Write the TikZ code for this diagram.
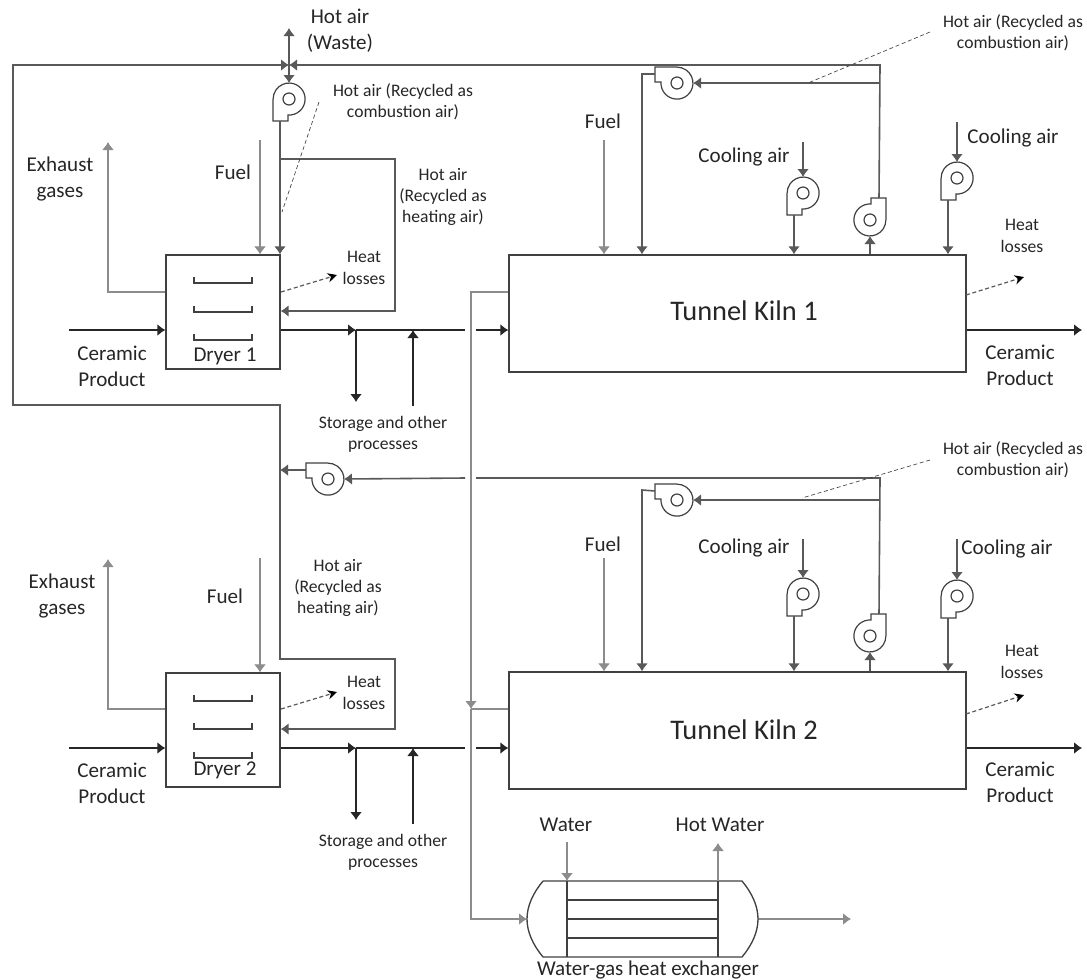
\documentclass[tikz,border=0pt]{standalone}
\usepackage{fontspec}
\setmainfont{Carlito}
\usetikzlibrary{arrows.meta}

\colorlet{linedark}{black!75}
\colorlet{linegas}{black!65}
\colorlet{lineflue}{black!45}

\tikzset{
  tipsolid/.tip={Latex[length=6pt,width=9pt]},
  unitbox/.style={draw=linedark,line width=1pt,inner sep=0pt},
  pipeline/.style={draw=linegas,line width=1.2pt},
  prodline/.style={draw=black!85,line width=1pt},
  flueline/.style={draw=lineflue,line width=1pt},
  fuelline/.style={draw=lineflue,line width=.8pt},
  lossline/.style={draw=linegas,line width=.9pt,densely dashed,-{Stealth[length=7pt,width=7pt,black]}},
  noteline/.style={draw=linedark,line width=.5pt,densely dashed},
  biglabel/.style={align=center,inner sep=0pt,text=black!85,font=\fontsize{15.8}{19.5}\selectfont},
  smalllabel/.style={align=center,inner sep=0pt,text=black!85,font=\fontsize{13.2}{16}\selectfont},
  pics/fan/.style={code={
    \draw[draw=linedark,line width=.9pt] (-16,0) -- (-16,-22) -- (-1,-22) -- (-1,-16) arc[start angle=-94,end angle=180,radius=16];
    \draw[draw=linedark,line width=.9pt] (0,0) circle[radius=6];
    \coordinate (-in) at (0,16);
    \coordinate (-out) at (-9,-22);
  }}
}

\begin{document}
\begin{tikzpicture}[x=.75pt,y=.75pt,yscale=-1]
\useasboundingbox (0,0) rectangle (1087,979);

% units
\node[unitbox,minimum width=85.5pt,minimum height=85.5pt] (dryer1) at (223,312) {};
\node[unitbox,minimum width=85.5pt,minimum height=85.5pt] (dryer2) at (223,730) {};
\node[unitbox,minimum width=342.75pt,minimum height=87.75pt] (kiln1) at (737.5,313.5) {};
\node[unitbox,minimum width=342.75pt,minimum height=87.75pt] (kiln2) at (737.5,730.5) {};

\node[biglabel] (namedryer1) at (225,356) {Dryer 1};
\node[biglabel] (namedryer2) at (225,770) {Dryer 2};
\node[biglabel,font=\fontsize{21.3}{25}\selectfont] (namekiln1) at (744,311) {Tunnel Kiln 1};
\node[biglabel,font=\fontsize{21.3}{25}\selectfont] (namekiln2) at (744,730) {Tunnel Kiln 2};

% fans
\pic (fantop) at (289,99) {fan};
\pic[rotate=-90] (fan1a) at (677,83) {fan};
\pic (fan1b) at (803,193) {fan};
\pic[rotate=180] (fan1c) at (870,220) {fan};
\pic (fan1d) at (957,178) {fan};
\pic[rotate=-90] (fanmid) at (328,479) {fan};
\pic[rotate=-90] (fan2a) at (677,500) {fan};
\pic (fan2b) at (803,594) {fan};
\pic[rotate=180] (fan2c) at (870,636) {fan};
\pic (fan2d) at (957,596) {fan};

% free ends and corners
\coordinate (valve) at (289,65);
\coordinate (waste) at (289,28);
\coordinate (topleft) at (13,65);
\coordinate (botleft) at (13,405);
\coordinate (botmid) at (280,405);
\coordinate (topright) at (880,65);
\coordinate (midright) at (880,478);
\coordinate (gapa) at (476,478);
\coordinate (gapb) at (465,478);
\coordinate (heat1a) at (280,159);
\coordinate (heat1b) at (395,159);
\coordinate (heat1c) at (395,311);
\coordinate (heat2a) at (280,659);
\coordinate (heat2b) at (395,659);
\coordinate (heat2c) at (395,729);
\coordinate (drop1) at (642,74);
\coordinate (drop2) at (642,490);

% hot air lines
\draw[pipeline,-tipsolid] (valve) -- (waste);
\draw[pipeline,-tipsolid] (valve) -- (fantop-in);
\draw[pipeline,-tipsolid] (fantop-out -| heat1a) -- (heat1a |- dryer1.north);
\draw[pipeline,-tipsolid] (heat1a) -- (heat1b) -- (heat1c) -- (heat1c -| dryer1.east);
\draw[pipeline,-tipsolid] (fan1c-out) -- (topright) -- (valve);
\draw[pipeline,-tipsolid] (fan1a-in -| topright) -- (fan1a-in);
\draw[pipeline,-tipsolid] (fan1a-out) -- (drop1) -- (drop1 |- kiln1.north);
\draw[pipeline,-tipsolid] (fan1b-out) -- (fan1b-out |- kiln1.north);
\draw[pipeline,tipsolid-] (fan1c-in) -- (fan1c-in |- kiln1.north);
\draw[pipeline,-tipsolid] (fan1d-out) -- (fan1d-out |- kiln1.north);
\draw[pipeline,tipsolid-tipsolid] (valve) -- (topleft) -- (botleft) -- (botmid) -- (heat2a) -- (heat2b) -- (heat2c) -- (heat2c -| dryer2.east);
\draw[pipeline,-tipsolid] (fanmid-out) -- (fanmid-out -| botmid);
\draw[pipeline] (fan2c-out) -- (midright) -- (gapa);
\draw[pipeline,-tipsolid] (gapb) -- (fanmid-in);
\draw[pipeline,-tipsolid] (fan2a-in -| midright) -- (fan2a-in);
\draw[pipeline,-tipsolid] (fan2a-out) -- (drop2) -- (drop2 |- kiln2.north);
\draw[pipeline,-tipsolid] (fan2b-out) -- (fan2b-out |- kiln2.north);
\draw[pipeline,tipsolid-] (fan2c-in) -- (fan2c-in |- kiln2.north);
\draw[pipeline,-tipsolid] (fan2d-out) -- (fan2d-out |- kiln2.north);

% cooling air
\coordinate (cool1b) at (803,142);
\coordinate (cool1d) at (957,122);
\coordinate (cool2b) at (803,539);
\coordinate (cool2d) at (957,539);
\draw[pipeline,-tipsolid] (cool1b) -- (fan1b-in);
\draw[pipeline,-tipsolid] (cool1d) -- (fan1d-in);
\draw[pipeline,-tipsolid] (cool2b) -- (fan2b-in);
\draw[pipeline,-tipsolid] (cool2d) -- (fan2d-in);

% fuel
\coordinate (fueld1) at (260,140);
\coordinate (fueld2) at (260,558);
\coordinate (fuelk1) at (604,140);
\coordinate (fuelk2) at (604,558);
\draw[fuelline,-tipsolid] (fueld1) -- (fueld1 |- dryer1.north);
\draw[fuelline,-tipsolid] (fueld2) -- (fueld2 |- dryer2.north);
\draw[fuelline,-tipsolid] (fuelk1) -- (fuelk1 |- kiln1.north);
\draw[fuelline,-tipsolid] (fuelk2) -- (fuelk2 |- kiln2.north);

% exhaust gases
\coordinate (exh1a) at (108,292);
\coordinate (exh1b) at (108,142);
\coordinate (exh2a) at (108,709);
\coordinate (exh2b) at (108,559);
\draw[flueline,-tipsolid] (exh1a -| dryer1.west) -- (exh1a) -- (exh1b);
\draw[flueline,-tipsolid] (exh2a -| dryer2.west) -- (exh2a) -- (exh2b);

% flue gas to the exchanger
\coordinate (fluetop) at (471,292);
\coordinate (fluejoin) at (471,709);
\coordinate (fluebot) at (471,919);
\coordinate (hxin) at (527,919);
\coordinate (hxout) at (758,919);
\coordinate (hxend) at (851,919);
\draw[flueline,-tipsolid] (fluetop -| kiln1.west) -- (fluetop) -- (fluejoin);
\draw[flueline] (fluejoin -| kiln2.west) -- (fluejoin);
\draw[flueline,-tipsolid] (fluejoin) -- (fluebot) -- (hxin);
\draw[flueline,-tipsolid] (hxout) -- (hxend);

% ceramic product lines
\coordinate (prod1a) at (69,330);
\coordinate (prod1b) at (356,330);
\coordinate (prod1c) at (413,330);
\coordinate (prod1d) at (465,330);
\coordinate (prod1e) at (476,330);
\coordinate (prod1f) at (1082,330);
\coordinate (store1a) at (356,402);
\coordinate (store1b) at (413,406);
\coordinate (prod2a) at (69,748);
\coordinate (prod2b) at (356,748);
\coordinate (prod2c) at (413,748);
\coordinate (prod2d) at (465,748);
\coordinate (prod2e) at (476,748);
\coordinate (prod2f) at (1082,748);
\coordinate (store2a) at (356,820);
\coordinate (store2b) at (413,824);
\draw[prodline,-tipsolid] (prod1a) -- (prod1a -| dryer1.west);
\draw[prodline,-tipsolid] (prod1a -| dryer1.east) -- (prod1b);
\draw[prodline] (prod1b) -- (prod1d);
\draw[prodline,-tipsolid] (prod1e) -- (prod1e -| kiln1.west);
\draw[prodline,-tipsolid] (prod1e -| kiln1.east) -- (prod1f);
\draw[prodline,-tipsolid] (prod1b) -- (store1a);
\draw[prodline,-tipsolid] (store1b) -- (prod1c);
\draw[prodline,-tipsolid] (prod2a) -- (prod2a -| dryer2.west);
\draw[prodline,-tipsolid] (prod2a -| dryer2.east) -- (prod2b);
\draw[prodline] (prod2b) -- (prod2d);
\draw[prodline,-tipsolid] (prod2e) -- (prod2e -| kiln2.west);
\draw[prodline,-tipsolid] (prod2e -| kiln2.east) -- (prod2f);
\draw[prodline,-tipsolid] (prod2b) -- (store2a);
\draw[prodline,-tipsolid] (store2b) -- (prod2c);

% trays
\draw[unitbox] (194,277) -- (194,283) -- (252,283) -- (252,277);
\draw[unitbox] (194,306) -- (194,312) -- (252,312) -- (252,306);
\draw[unitbox] (194,334) -- (194,340) -- (252,340) -- (252,334);
\draw[unitbox] (194,695) -- (194,701) -- (252,701) -- (252,695);
\draw[unitbox] (194,723) -- (194,729) -- (252,729) -- (252,723);
\draw[unitbox] (194,752) -- (194,758) -- (252,758) -- (252,752);

% heat losses
\coordinate (lossd1a) at (281,292);
\coordinate (lossd1b) at (337,275);
\coordinate (lossd2a) at (281,709);
\coordinate (lossd2b) at (337,692);
\coordinate (lossk1a) at (966,295);
\coordinate (lossk1b) at (1024,277);
\coordinate (lossk2a) at (966,714);
\coordinate (lossk2b) at (1024,695);
\draw[lossline] (lossd1a) -- (lossd1b);
\draw[lossline] (lossd2a) -- (lossd2b);
\draw[lossline] (lossk1a) -- (lossk1b);
\draw[lossline] (lossk2a) -- (lossk2b);

% leader lines
\coordinate (noted1a) at (319,102);
\coordinate (noted1b) at (282,212);
\coordinate (notek1a) at (930,32);
\coordinate (notek1b) at (808,83);
\coordinate (notek2a) at (930,460);
\coordinate (notek2b) at (802,498);
\draw[noteline] (noted1a) -- (noted1b);
\draw[noteline] (notek1a) -- (notek1b);
\draw[noteline] (notek2a) -- (notek2b);

% heat exchanger
\coordinate (waterin) at (567,842);
\coordinate (waterout) at (718,843);
\coordinate (shellin) at (567,881);
\coordinate (shellout) at (718,881);
\draw[unitbox] (543,881) -- (742,881) .. controls (752,893) and (758,906) .. (hxout) .. controls (758,932) and (752,945) .. (742,957) -- (543,957) .. controls (533,945) and (527,932) .. (hxin) .. controls (527,906) and (533,893) .. (543,881);
\draw[unitbox] (shellin) -- (567,957);
\draw[unitbox] (shellout) -- (718,957);
\draw[unitbox] (567,900) -- (718,900);
\draw[unitbox] (567,919) -- (718,919);
\draw[unitbox] (567,938) -- (718,938);
\draw[fuelline,-tipsolid] (waterin) -- (shellin);
\draw[fuelline,-tipsolid] (shellout) -- (waterout);

% labels
\node[biglabel] (lblwaste) at (340,31) {Hot air\\(Waste)};
\node[smalllabel] (lblcomb0) at (403,102) {Hot air (Recycled as\\combustion air)};
\node[smalllabel] (lblheat1) at (443,197) {Hot air\\(Recycled as\\heating air)};
\node[biglabel] (lblexh1) at (60,179) {Exhaust\\gases};
\node[biglabel] (lblfueld1) at (233,172) {Fuel};
\node[smalllabel] (lblloss1) at (364,268) {Heat\\losses};
\node[biglabel] (lblprod1) at (112,366) {Ceramic\\Product};
\node[smalllabel] (lblstore1) at (383,434) {Storage and other\\processes};
\node[smalllabel] (lblcomb1) at (1013,33) {Hot air (Recycled as\\combustion air)};
\node[biglabel] (lblfuelk1) at (603,121) {Fuel};
\node[biglabel] (lblcool1b) at (744,157) {Cooling air};
\node[biglabel] (lblcool1d) at (1013,138) {Cooling air};
\node[smalllabel] (lbllossk1) at (1022,236) {Heat\\losses};
\node[biglabel] (lblprodk1) at (1020,365) {Ceramic\\Product};
\node[biglabel] (lblexh2) at (62,596) {Exhaust\\gases};
\node[biglabel] (lblfueld2) at (225,596) {Fuel};
\node[smalllabel] (lblheat2) at (338,588) {Hot air\\(Recycled as\\heating air)};
\node[smalllabel] (lblloss2) at (364,693) {Heat\\losses};
\node[biglabel] (lblprod2) at (112,783) {Ceramic\\Product};
\node[smalllabel] (lblstore2) at (383,852) {Storage and other\\processes};
\node[smalllabel] (lblcomb2) at (1013,460) {Hot air (Recycled as\\combustion air)};
\node[biglabel] (lblfuelk2) at (603,544) {Fuel};
\node[biglabel] (lblcool2b) at (744,548) {Cooling air};
\node[biglabel] (lblcool2d) at (1007,549) {Cooling air};
\node[smalllabel] (lbllossk2) at (1022,662) {Heat\\losses};
\node[biglabel] (lblprodk2) at (1020,782) {Ceramic\\Product};
\node[biglabel] (lblwater) at (566,825) {Water};
\node[biglabel] (lblhot) at (720,825) {Hot Water};
\node[biglabel] (lblhx) at (648,970) {Water-gas heat exchanger};

\end{tikzpicture}
\end{document}
